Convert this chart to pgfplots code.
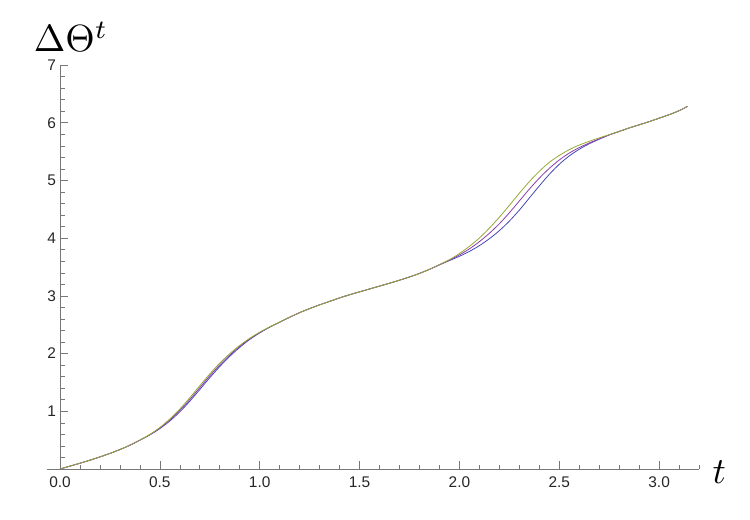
\documentclass[border=0pt]{standalone}
\usepackage{fontspec}
\usepackage{pgfplots}
\usepackage{pgfplotstable}
\pgfplotsset{compat=1.18}
\newfontfamily\tickfont{Liberation Sans}
\definecolor{cblue}{RGB}{70,70,185}
\definecolor{cpurple}{RGB}{140,60,175}
\definecolor{cgreen}{RGB}{150,170,50}
\definecolor{axgray}{RGB}{120,120,120}

\pgfplotstableread{
t y
0.00 0.000
0.05 0.050
0.10 0.100
0.15 0.153
0.20 0.210
0.25 0.270
0.30 0.337
0.35 0.412
0.40 0.500
0.45 0.595
0.50 0.710
0.55 0.850
0.60 1.015
0.65 1.205
0.70 1.410
0.75 1.615
0.80 1.805
0.85 1.975
0.90 2.125
0.95 2.255
1.00 2.365
1.05 2.460
1.10 2.545
1.15 2.630
1.20 2.710
1.25 2.780
1.30 2.845
1.35 2.905
1.40 2.965
1.45 3.020
1.50 3.070
1.55 3.120
1.60 3.170
1.65 3.220
1.70 3.272
1.75 3.328
1.80 3.390
1.85 3.460
1.90 3.540
1.95 3.620
2.00 3.710
2.05 3.815
2.10 3.940
2.15 4.085
2.20 4.250
2.25 4.440
2.30 4.645
2.35 4.850
2.40 5.040
2.45 5.210
2.50 5.355
2.55 5.475
2.60 5.570
2.65 5.650
2.70 5.720
2.75 5.790
2.80 5.850
2.85 5.910
2.90 5.965
2.95 6.020
3.00 6.080
3.05 6.140
3.10 6.210
3.1416 6.2832
}\purpletab

\pgfplotstableread{
t y
0.00 0.000
0.05 0.050
0.10 0.100
0.15 0.153
0.20 0.210
0.25 0.270
0.30 0.337
0.35 0.412
0.40 0.500
0.45 0.599
0.50 0.720
0.55 0.867
0.60 1.039
0.65 1.235
0.70 1.443
0.75 1.647
0.80 1.834
0.85 1.998
0.90 2.142
0.95 2.265
1.00 2.371
1.05 2.462
1.10 2.545
1.15 2.630
1.20 2.710
1.25 2.780
1.30 2.845
1.35 2.905
1.40 2.965
1.45 3.020
1.50 3.070
1.55 3.120
1.60 3.170
1.65 3.220
1.70 3.272
1.75 3.328
1.80 3.390
1.85 3.460
1.90 3.542
1.95 3.628
2.00 3.734
2.05 3.859
2.10 4.004
2.15 4.174
2.20 4.364
2.25 4.569
2.30 4.779
2.35 4.979
2.40 5.159
2.45 5.314
2.50 5.434
2.55 5.534
2.60 5.614
2.65 5.679
2.70 5.739
2.75 5.794
2.80 5.850
2.85 5.910
2.90 5.965
2.95 6.020
3.00 6.080
3.05 6.140
3.10 6.210
3.1416 6.2832
}\greentab

\pgfplotstableread{
t y
0.00 0.000
0.05 0.050
0.10 0.100
0.15 0.153
0.20 0.210
0.25 0.270
0.30 0.337
0.35 0.412
0.40 0.500
0.45 0.591
0.50 0.700
0.55 0.833
0.60 0.991
0.65 1.175
0.70 1.377
0.75 1.583
0.80 1.776
0.85 1.952
0.90 2.108
0.95 2.245
1.00 2.359
1.05 2.458
1.10 2.545
1.15 2.630
1.20 2.710
1.25 2.780
1.30 2.845
1.35 2.905
1.40 2.965
1.45 3.020
1.50 3.070
1.55 3.120
1.60 3.170
1.65 3.220
1.70 3.272
1.75 3.328
1.80 3.390
1.85 3.460
1.90 3.538
1.95 3.612
2.00 3.686
2.05 3.771
2.10 3.871
2.15 3.991
2.20 4.131
2.25 4.296
2.30 4.486
2.35 4.696
2.40 4.906
2.45 5.106
2.50 5.281
2.55 5.426
2.60 5.541
2.65 5.636
2.70 5.716
2.75 5.790
2.80 5.850
2.85 5.910
2.90 5.965
2.95 6.020
3.00 6.080
3.05 6.140
3.10 6.210
3.1416 6.2832
}\bluetab

\begin{document}
\begin{tikzpicture}
\begin{axis}[
  x=199.7bp, y=57.7bp,
  xmin=-0.066, xmax=3.2, ymin=0, ymax=7,
  axis lines=middle,
  axis line style={-, axgray, line width=0.7bp},
  tick style={axgray, line width=0.6bp},
  tick align=inside,
  major tick length=8bp, minor tick length=4.5bp,
  xtick={0,0.5,1,1.5,2,2.5,3},
  xticklabels={0.0,0.5,1.0,1.5,2.0,2.5,3.0},
  minor xtick={0.1,0.2,0.3,0.4,0.6,0.7,0.8,0.9,1.1,1.2,1.3,1.4,1.6,1.7,1.8,1.9,2.1,2.2,2.3,2.4,2.6,2.7,2.8,2.9,3.1,3.2},
  ytick={1,2,3,4,5,6,7},
  yticklabels={1,2,3,4,5,6,7},
  minor ytick={0.2,0.4,0.6,0.8,1.2,1.4,1.6,1.8,2.2,2.4,2.6,2.8,3.2,3.4,3.6,3.8,4.2,4.4,4.6,4.8,5.2,5.4,5.6,5.8,6.2,6.4,6.6,6.8},
  hide obscured x ticks=false, hide obscured y ticks=false,
  tick label style={font=\tickfont\fontsize{15.5}{15.5}\selectfont, text=black!85},
  xticklabel style={yshift=-4.5bp},
  yticklabel style={xshift=-0.5bp},
  clip=false,
]
\addplot[cblue, line width=0.8bp, smooth] table[x=t, y=y] {\bluetab};
\addplot[cpurple, line width=0.8bp, smooth] table[x=t, y=y] {\purpletab};
\addplot[cgreen, line width=0.8bp, smooth] table[x=t, y=y] {\greentab};
\coordinate (O) at (axis cs:0,0);
\end{axis}
\node[anchor=base west, inner sep=0, scale=3.8] at ([shift={(-27bp,417bp)}]O) {$\Delta\Theta^t$};
\node[anchor=base west, inner sep=0, scale=3.7] at ([shift={(652bp,-14bp)}]O) {$t$};
\pgfresetboundingbox
\path[use as bounding box] ([shift={(-60bp,-51bp)}]O) rectangle ([shift={(690bp,469bp)}]O);
\end{tikzpicture}
\end{document}
